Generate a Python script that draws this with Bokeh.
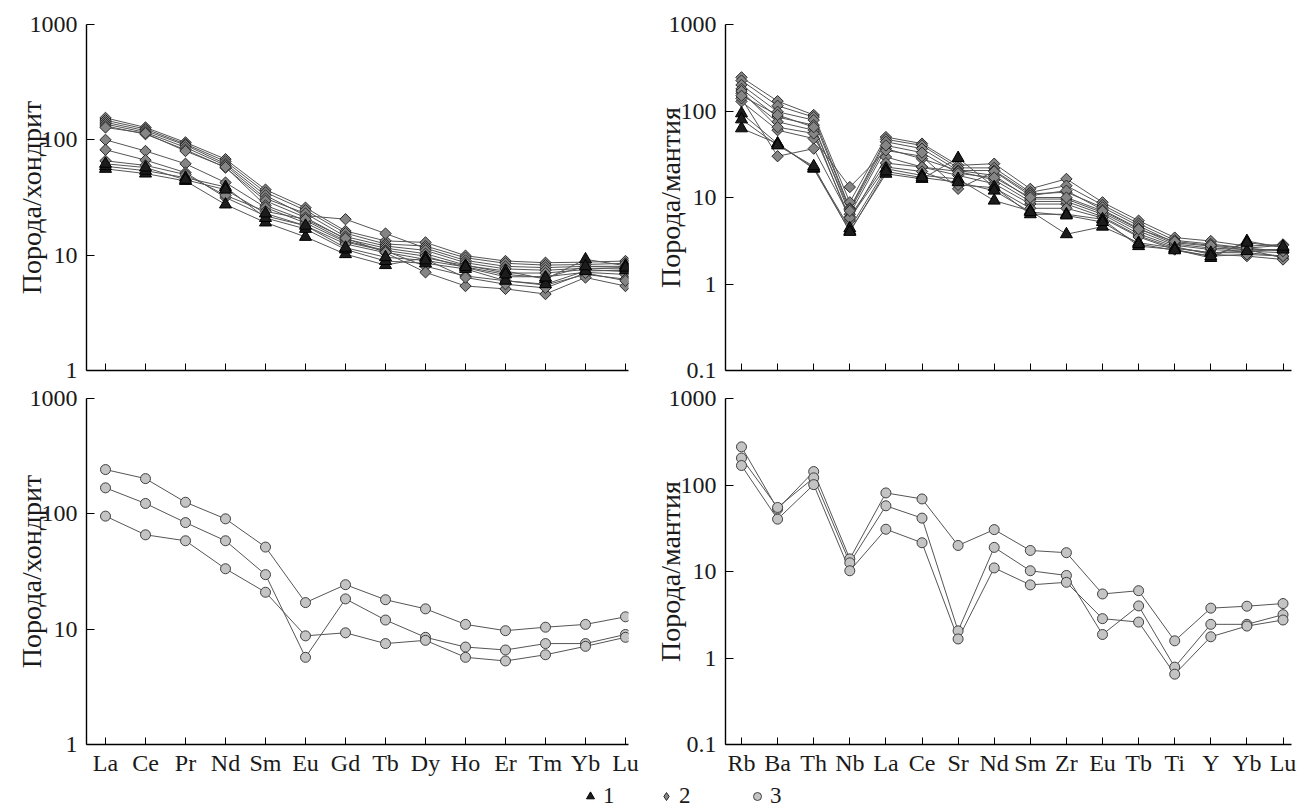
import numpy as np
from bokeh.plotting import figure
from bokeh.layouts import column, row
from bokeh.models import (Range1d, FixedTicker, CustomJSTickFormatter, Legend, LegendItem,
                          CustomLabelingPolicy)
from bokeh.embed import file_html
from bokeh.resources import INLINE

# ---------------- data ----------------
ree = ["La", "Ce", "Pr", "Nd", "Sm", "Eu", "Gd", "Tb", "Dy", "Ho", "Er", "Tm", "Yb", "Lu"]
spider = ["Rb", "Ba", "Th", "Nb", "La", "Ce", "Sr", "Nd", "Sm", "Zr", "Eu", "Tb", "Ti", "Y", "Yb", "Lu"]

# chondrite-normalised REE, group 1 (triangles)
ree_g1 = [
    [56, 51, 44, 27.5, 19.2, 14.4, 10.2, 8.2, 9.5, 8.1, 7.3, 6.2, 9.2, 8.1],
    [59, 54, 47, 39, 21, 16.9, 11.2, 8.9, 8.5, 7.6, 6.0, 5.6, 7.3, 7.4],
    [62, 57.5, 45, 37, 23, 18, 11.6, 9.6, 9.0, 7.9, 6.8, 6.4, 8.0, 7.8],
]
# group 2 (diamonds)
ree_g2 = [
    [155, 128, 95, 68, 37, 25.8, 16.2, 13.3, 12.9, 9.9, 8.9, 8.6, 8.7, 8.9],
    [148, 124, 92, 65, 35, 24.5, 15.5, 12.5, 12.0, 9.5, 8.5, 8.2, 8.3, 8.5],
    [142, 120, 90, 62, 33, 22, 20.5, 15.4, 11.5, 9.0, 8.0, 7.8, 8.0, 8.0],
    [137, 116, 86, 60, 31, 23, 14.5, 12.0, 11.0, 8.6, 7.6, 7.4, 7.7, 7.6],
    [132, 112, 82, 57.5, 29.6, 21.2, 13.8, 11.5, 10.3, 8.2, 7.0, 7.0, 7.5, 7.2],
    [128, 114, 80, 58, 27, 20, 13.3, 11.0, 9.8, 7.8, 6.5, 6.5, 7.1, 6.8],
    [100, 80, 62, 42.6, 25.9, 19, 13, 10.9, 8.0, 6.6, 6.0, 5.5, 6.8, 6.2],
    [82, 66.7, 52, 31.6, 21.9, 18, 12.5, 10.5, 7.1, 5.4, 5.1, 4.6, 6.4, 5.4],
    [65.8, 60, 50, 33, 24, 20.5, 14, 10.6, 9.2, 6.4, 5.6, 5.2, 7.0, 6.0],
]
# group 3 (circles)
ree_g3 = [
    [242, 202, 126, 90.5, 51.5, 17, 24.3, 18, 15, 11, 9.7, 10.4, 11, 12.8],
    [168, 123, 84, 58.4, 29.7, 5.7, 18.3, 12, 8.5, 7, 6.6, 7.5, 7.5, 9],
    [95.5, 65.8, 58.4, 33.4, 20.9, 8.75, 9.3, 7.5, 8, 5.7, 5.3, 6, 7.1, 8.5],
]

# primitive-mantle-normalised spider diagram
sp_g1 = [
    [63, 42, 21.5, 4.1, 18.8, 16.4, 28.6, 13.2, 6.4, 6.4, 5.6, 2.74, 2.5, 2.0, 3.14, 2.63],
    [94, 42, 22, 4.4, 21.5, 18, 16.4, 9.2, 7.0, 3.76, 4.6, 3.0, 2.6, 2.3, 2.4, 2.5],
    [80, 40, 23, 4.0, 20, 17, 15, 12, 6.8, 6.2, 5.2, 2.9, 2.45, 2.1, 3.0, 2.7],
]
sp_g2 = [
    [245, 130, 90, 8.8, 50, 42, 23.5, 24.6, 12.6, 16.4, 8.8, 5.4, 3.44, 3.14, 2.74, 2.87],
    [225, 115, 85, 7.5, 47, 40, 22, 22, 11.5, 13.7, 8.2, 5.0, 3.2, 2.9, 2.6, 2.8],
    [200, 98, 78.5, 7.3, 44, 36.7, 20.5, 20.5, 11, 11.5, 7.7, 4.7, 3.0, 2.74, 2.5, 2.5],
    [180, 85, 68.7, 6.4, 36.7, 28, 20.5, 18, 9.6, 9.6, 6.7, 4.1, 2.8, 2.5, 2.4, 2.3],
    [160, 75, 60, 5.4, 29.4, 22.5, 18, 14.4, 8.4, 8.4, 6.0, 3.6, 2.6, 2.3, 2.3, 2.1],
    [129, 60, 48, 13.2, 35, 30, 12.6, 20, 10.5, 12, 7.2, 4.4, 2.9, 2.6, 2.5, 2.0],
    [140, 30, 36.7, 6.0, 25, 22.5, 20, 16, 9.0, 9.0, 6.4, 3.8, 2.7, 2.2, 2.1, 1.92],
    [170, 65, 55, 5.8, 22.5, 20, 14, 13, 7.5, 7.5, 5.8, 3.5, 2.5, 2.1, 2.2, 2.1],
    [150, 90, 65, 7.0, 40, 33, 19, 17, 10, 10, 7.0, 4.3, 3.1, 2.8, 2.6, 2.4],
]
sp_g3 = [
    [276, 52.7, 143, 14, 81, 69, 20, 30.5, 17.5, 16.5, 5.5, 6.0, 1.58, 3.77, 3.97, 4.26],
    [205, 55, 121, 12.6, 57.5, 41.4, 2.06, 19, 10.2, 9.0, 1.87, 4.0, 0.785, 2.45, 2.45, 3.17],
    [168, 40.3, 101, 10.2, 30.8, 21.5, 1.66, 11, 7.0, 7.5, 2.85, 2.6, 0.65, 1.76, 2.34, 2.75],
]

ylab_ree = "Порода/хондрит"
ylab_sp = "Порода/мантия"
legend_labels = ["1", "2", "3"]

# ---------------- styling ----------------
FONT = "Liberation Serif"
TXT_C = "#1a1a1a"
LINE_C = "#555555"
TRI = dict(marker="triangle", size=12, fill_color="#1c1c1c", line_color="#000000", line_width=1)
DIA = dict(marker="square", angle=np.pi / 4, size=8, fill_color="#858585", line_color="#2a2a2a", line_width=1)
CIR = dict(marker="circle", size=10, fill_color="#c4c4c4", line_color="#404040", line_width=1)


def make_fig(width, height, names, xr, yr, mbl, mbr, mbt, mbb, ylabel, show_x):
    p = figure(width=width, height=height, x_range=Range1d(*xr), y_range=Range1d(*yr),
               y_axis_type="log", output_backend="svg", toolbar_location=None,
               min_border_left=mbl, min_border_right=mbr, min_border_top=mbt, min_border_bottom=mbb)
    p.outline_line_color = None
    p.grid.visible = False
    xa = p.xaxis[0]
    ya = p.yaxis[0]
    xa.ticker = FixedTicker(ticks=list(range(len(names))))
    xa.major_label_overrides = {i: s for i, s in enumerate(names)}
    xa.major_tick_in = 7
    xa.major_tick_out = 0
    xa.minor_tick_line_color = None
    xa.axis_line_width = 1.4
    xa.major_label_text_font = FONT
    xa.major_label_text_font_size = "24px"
    xa.major_label_text_color = TXT_C
    xa.major_label_standoff = 5
    if not show_x:
        xa.major_label_text_font_size = "1px"
        xa.major_label_standoff = 0
        xa.major_label_policy = CustomLabelingPolicy(code="return [];")
    ticks = [1, 10, 100, 1000] if yr[0] >= 1 else [0.1, 1, 10, 100, 1000]
    ya.ticker = FixedTicker(ticks=ticks)
    ya.formatter = CustomJSTickFormatter(code="return String(tick);")
    ya.major_tick_in = 8
    ya.major_tick_out = 0
    ya.minor_tick_line_color = None
    ya.axis_line_width = 1.4
    ya.major_label_text_font = FONT
    ya.major_label_text_font_size = "24px"
    ya.major_label_text_color = TXT_C
    ya.major_label_standoff = 9
    ya.axis_label = ylabel
    ya.axis_label_text_font = FONT
    ya.axis_label_text_font_size = "28px"
    ya.axis_label_text_font_style = "normal"
    ya.axis_label_text_color = TXT_C
    ya.axis_label_standoff = -20
    return p


def draw(p, groups):
    for series_list, style in groups:
        for vals in series_list:
            xs = list(range(len(vals)))
            p.line(xs, vals, line_color=LINE_C, line_width=1)
        for vals in series_list:
            xs = list(range(len(vals)))
            p.scatter(xs, vals, **style)


W_L = 650
W_R = 1299 - W_L
XR_L = (-0.475, 13.075)
XR_R = (-0.443, 15.235)

p_tl = make_fig(W_L, 384, ree, XR_L, (1, 1000), 86, 22, 24, 14, ylab_ree, False)
p_tr = make_fig(W_R, 384, spider, XR_R, (0.1, 1000), 75, 8, 24, 14, ylab_sp, False)
p_bl = make_fig(W_L, 396, ree, XR_L, (1, 1000), 86, 22, 14, 36, ylab_ree, True)
p_br = make_fig(W_R, 396, spider, XR_R, (0.1, 1000), 75, 8, 14, 36, ylab_sp, True)

draw(p_tl, [(ree_g2, DIA), (ree_g1, TRI)])
draw(p_tr, [(sp_g2, DIA), (sp_g1, TRI)])
draw(p_bl, [(ree_g3, CIR)])
draw(p_br, [(sp_g3, CIR)])

# legend strip (keys only; their renderers hold no visible points)
p_leg = figure(width=1299, height=29, x_range=Range1d(0, 1), y_range=Range1d(0, 1),
               output_backend="svg", toolbar_location=None, min_border=0,
               x_axis_location=None, y_axis_location=None)
p_leg.outline_line_color = None
p_leg.grid.visible = False
leg_styles = [
    dict(marker="triangle", fill_color="#1c1c1c", line_color="#000000"),
    dict(marker="diamond", fill_color="#858585", line_color="#2a2a2a"),
    dict(marker="circle", fill_color="#c4c4c4", line_color="#404040"),
]
leg_x = [580, 656, 747]
for lab, st, lx in zip(legend_labels, leg_styles, leg_x):
    r = p_leg.scatter(x=[np.nan], y=[np.nan], size=8, **st)
    lg = Legend(items=[LegendItem(label=lab, renderers=[r])], location=(lx, 0),
                orientation="horizontal", padding=0, margin=0, border_line_color=None,
                background_fill_alpha=0, label_text_font=FONT, label_text_font_size="23px",
                label_text_color=TXT_C, label_standoff=3, glyph_width=20, glyph_height=20)
    p_leg.add_layout(lg)

layout = column(row(p_tl, p_tr), row(p_bl, p_br), p_leg)
open("out.html", "w").write(file_html(layout, INLINE))
